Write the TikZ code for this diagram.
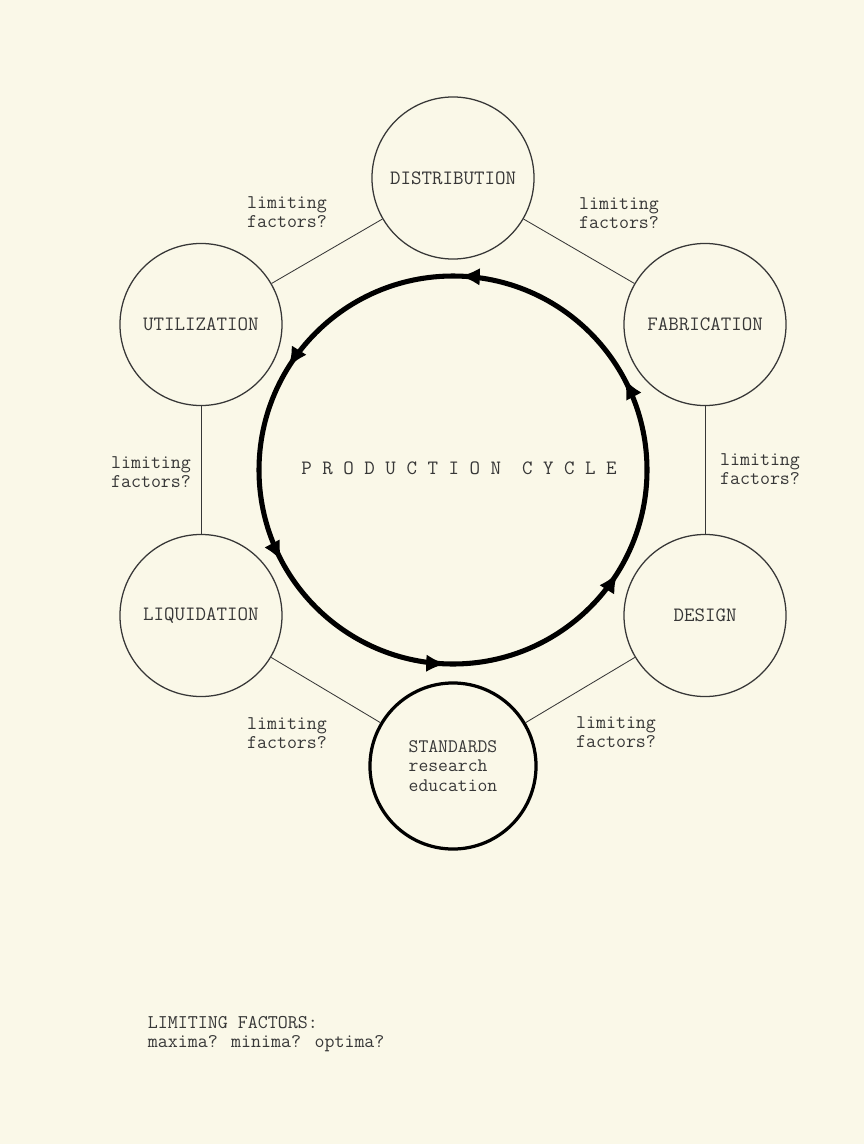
\documentclass[tikz,border=0pt]{standalone}
\usepackage{fontspec}
\usetikzlibrary{positioning,arrows.meta,calc,decorations.markings}
\definecolor{paper}{RGB}{250,248,232}
\definecolor{ink}{RGB}{55,55,55}

\begin{document}
\begin{tikzpicture}[
  x=0.025cm, y=0.025cm,
  stage/.style={draw=ink, circle, line width=0.9pt, minimum size=4.05cm, inner sep=0pt, text=ink, align=left,
    font=\ttfamily\fontsize{14.5}{14.6}\selectfont},
  lim/.style={align=left, text=ink, font=\ttfamily\fontsize{13.8}{13.9}\selectfont},
  link/.style={draw=ink, line width=0.6pt},
  flow/.style={line width=3.6pt, postaction={decorate}, decoration={markings,
    mark=between positions 0.0778 and 0.95 step 0.16667 with {\arrow{Latex[length=5mm,width=4.4mm]}}}}
]
% page
\fill[paper] (0,0) rectangle (864,-1144);
\useasboundingbox (0,0) rectangle (864,-1144);

\coordinate (hub) at (453,-470);

% the six stages
\node[stage] (dist) at ($(hub)+(90:292)$) {DISTRIBUTION};
\node[stage] (fab) at ($(hub)+(30:291)$) {FABRICATION};
\node[stage] (design) at ($(hub)+(-30:291)$) {DESIGN};
\node[stage, line width=2.3pt, draw=black, minimum size=4.15cm, font=\ttfamily\fontsize{13.6}{13.7}\selectfont] (std) at ($(hub)+(-90:296)$) {STANDARDS\\research\\education};
\node[stage] (liq) at ($(hub)+(-150:291)$) {LIQUIDATION};
\node[stage] (util) at ($(hub)+(150:291)$) {UTILIZATION};

\draw[link] (util) -- (dist);
\draw[link] (dist) -- (fab);
\draw[link] (fab) -- (design);
\draw[link] (design) -- (std);
\draw[link] (std) -- (liq);
\draw[link] (liq) -- (util);

% cycle
\draw[flow] ($(hub)+(0:194)$) arc[start angle=0, end angle=360, radius=194];
\node[lim, font=\ttfamily\fontsize{14.5}{14.6}\selectfont] (cycle) at (459,-468) {P R O D U C T I O N~~C Y C L E};

% limiting factors
\node[lim] (limA) at (287,-212) {limiting\\factors?};
\node[lim] (limB) at (619,-213) {limiting\\factors?};
\node[lim] (limC) at (760,-469) {limiting\\factors?};
\node[lim] (limD) at (616,-732) {limiting\\factors?};
\node[lim] (limE) at (287,-733) {limiting\\factors?};
\node[lim] (limF) at (151,-472) {limiting\\factors?};

\node[lim, anchor=north west] (note) at (143,-1011) {LIMITING FACTORS:\\maxima? minima? optima?};
\end{tikzpicture}
\end{document}
